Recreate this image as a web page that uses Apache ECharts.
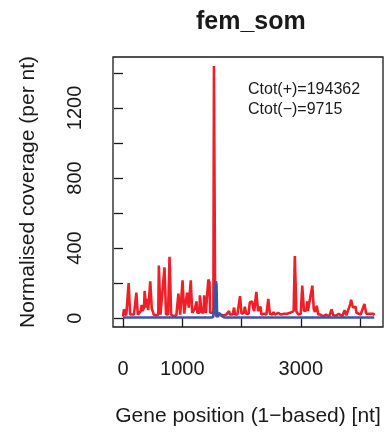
<!DOCTYPE html>
<html>
<head>
<meta charset="utf-8">
<script src="https://cdn.jsdelivr.net/npm/echarts@6/dist/echarts.min.js"></script>
<style>
  html, body { margin: 0; padding: 0; background: #fff; }
  #chart { width: 390px; height: 434px; }
</style>
</head>
<body>
<div id="chart"></div>
<script>
// positions (nt) and coverage of the plus strand
const plusPos = [0, 15, 40, 55, 85, 95, 110, 120, 150, 185, 225, 240, 250, 275, 300, 315, 330, 355, 365, 378,
    390, 410, 425, 445, 460, 472, 485, 505, 520, 560, 595, 605, 620, 632, 665, 700, 715, 726, 760, 785,
    800, 812, 850, 900, 935, 952, 965, 995, 1005, 1020, 1032, 1060, 1082, 1098, 1110, 1135, 1143, 1155, 1168, 1195,
    1210, 1225, 1240, 1255, 1290, 1298, 1312, 1325, 1360, 1370, 1385, 1398, 1425, 1440, 1450, 1460, 1470, 1500, 1525, 1535,
    1547, 1555, 1570, 1600, 1640, 1700, 1740, 1770, 1790, 1805, 1850, 1875, 1890, 1930, 1975, 1988, 2000, 2040, 2055, 2068,
    2080, 2120, 2140, 2180, 2195, 2215, 2250, 2262, 2280, 2310, 2322, 2335, 2380, 2420, 2452, 2465, 2478, 2520, 2540, 2560,
    2620, 2640, 2660, 2720, 2745, 2770, 2820, 2850, 2880, 2900, 2915, 2925, 2960, 3000, 3025, 3040, 3055, 3095, 3110, 3120,
    3150, 3195, 3208, 3220, 3240, 3270, 3282, 3295, 3330, 3355, 3380, 3425, 3440, 3480, 3520, 3535, 3550, 3600, 3640, 3660,
    3700, 3740, 3755, 3770, 3800, 3835, 3850, 3865, 3880, 3900, 3925, 3940, 3970, 4010, 4040, 4075, 4090, 4105, 4140, 4165,
    4180, 4200, 4225, 4240];
const plusCov = [8, 50, 50, 15, 15, 200, 200, 20, 15, 20, 145, 140, 20, 25, 40, 75, 40, 60, 155, 150,
    60, 110, 45, 40, 210, 205, 55, 60, 20, 15, 20, 300, 300, 20, 20, 290, 285, 20, 20, 350,
    345, 20, 10, 15, 140, 135, 20, 20, 215, 210, 25, 30, 145, 140, 60, 55, 215, 210, 30, 30,
    50, 40, 95, 30, 30, 130, 130, 35, 30, 130, 130, 30, 30, 220, 225, 205, 30, 20, 30, 1440,
    1440, 40, 10, 8, 20, 15, 20, 25, 40, 20, 20, 60, 20, 20, 125, 120, 25, 30, 65, 60,
    25, 25, 90, 95, 60, 40, 150, 145, 40, 30, 65, 20, 25, 20, 110, 105, 25, 20, 35, 20,
    30, 35, 20, 25, 35, 25, 30, 40, 40, 355, 350, 40, 20, 25, 185, 180, 40, 45, 95, 40,
    30, 185, 180, 50, 35, 70, 65, 20, 20, 25, 10, 20, 15, 10, 50, 45, 15, 15, 25, 20,
    10, 45, 40, 15, 20, 80, 105, 100, 60, 60, 65, 30, 20, 20, 15, 80, 75, 25, 25, 30,
    25, 30, 25, 15];

// minus strand
const minusPos = [0, 1480, 1520, 1540, 1555, 1568, 1578, 1588, 1600, 1620, 1640, 1655, 1670, 1685, 1700, 1740, 4240];
const minusCov = [3, 3, 5, 60, 150, 210, 190, 20, 5, 30, 35, 15, 25, 20, 5, 3, 3];

const xTicks = [0, 1000, 2000, 3000, 4000];
const xLabels = [0, 1000, 3000];
const yTicks = [0, 200, 400, 600, 800, 1000, 1200, 1400];
const yLabels = [0, 400, 800, 1200];

const ink = '#1a1a1a';
const fontName = 'Liberation Sans';

let chart = echarts.init(document.getElementById('chart'));
chart.setOption({
    animation: false,
    backgroundColor: '#fff',
    title: [{
        text: 'fem_som',
        left: 191,
        top: 5,
        textStyle: { fontFamily: fontName, fontSize: 25, fontWeight: 'bold', color: ink }
    }, {
        text: 'Ctot(+)=194362\nCtot(\u2212)=9715',
        left: 248,
        top: 80,
        padding: 0,
        textStyle: { fontFamily: fontName, fontSize: 16, fontWeight: 'normal', color: ink, lineHeight: 20 }
    }],
    grid: {
        left: 113, right: 7, top: 57, bottom: 107,
        show: true, borderColor: ink, borderWidth: 1.3,
        containLabel: false, outerBoundsMode: 'none'
    },
    xAxis: {
        type: 'value',
        min: -169, max: 4388,
        name: 'Gene position (1\u2212based) [nt]',
        nameLocation: 'middle',
        nameGap: 79,
        nameTextStyle: { fontFamily: fontName, fontSize: 21, color: ink },
        axisLine: { show: false },
        splitLine: { show: false },
        axisTick: { show: true, inside: false, length: 9, customValues: xTicks, lineStyle: { color: ink, width: 1.3 } },
        axisLabel: {
            customValues: xLabels, margin: 32, fontFamily: fontName, fontSize: 20, color: ink,
            formatter: (v) => String(v)
        }
    },
    yAxis: {
        type: 'value',
        min: -51, max: 1491,
        name: 'Normalised coverage (per nt)',
        nameLocation: 'middle',
        nameGap: 74,
        nameTextStyle: { fontFamily: fontName, fontSize: 21, color: ink },
        axisLine: { show: false },
        splitLine: { show: false },
        axisTick: { show: true, inside: false, length: 9, customValues: yTicks, lineStyle: { color: ink, width: 1.3 } },
        axisLabel: {
            customValues: yLabels, rotate: 90, margin: 28, fontFamily: fontName, fontSize: 20, color: ink,
            formatter: (v) => String(v)
        }
    },
    series: [{
        name: 'plus',
        type: 'line',
        showSymbol: false,
        data: plusPos.map((p, i) => [p, plusCov[i]]),
        lineStyle: { color: '#ee1f26', width: 2.6 },
        itemStyle: { color: '#ee1f26' }
    }, {
        name: 'minus',
        type: 'line',
        showSymbol: false,
        data: minusPos.map((p, i) => [p, minusCov[i]]),
        lineStyle: { color: '#3a55a6', width: 2.6 },
        itemStyle: { color: '#3a55a6' }
    }]
});
</script>
</body>
</html>
